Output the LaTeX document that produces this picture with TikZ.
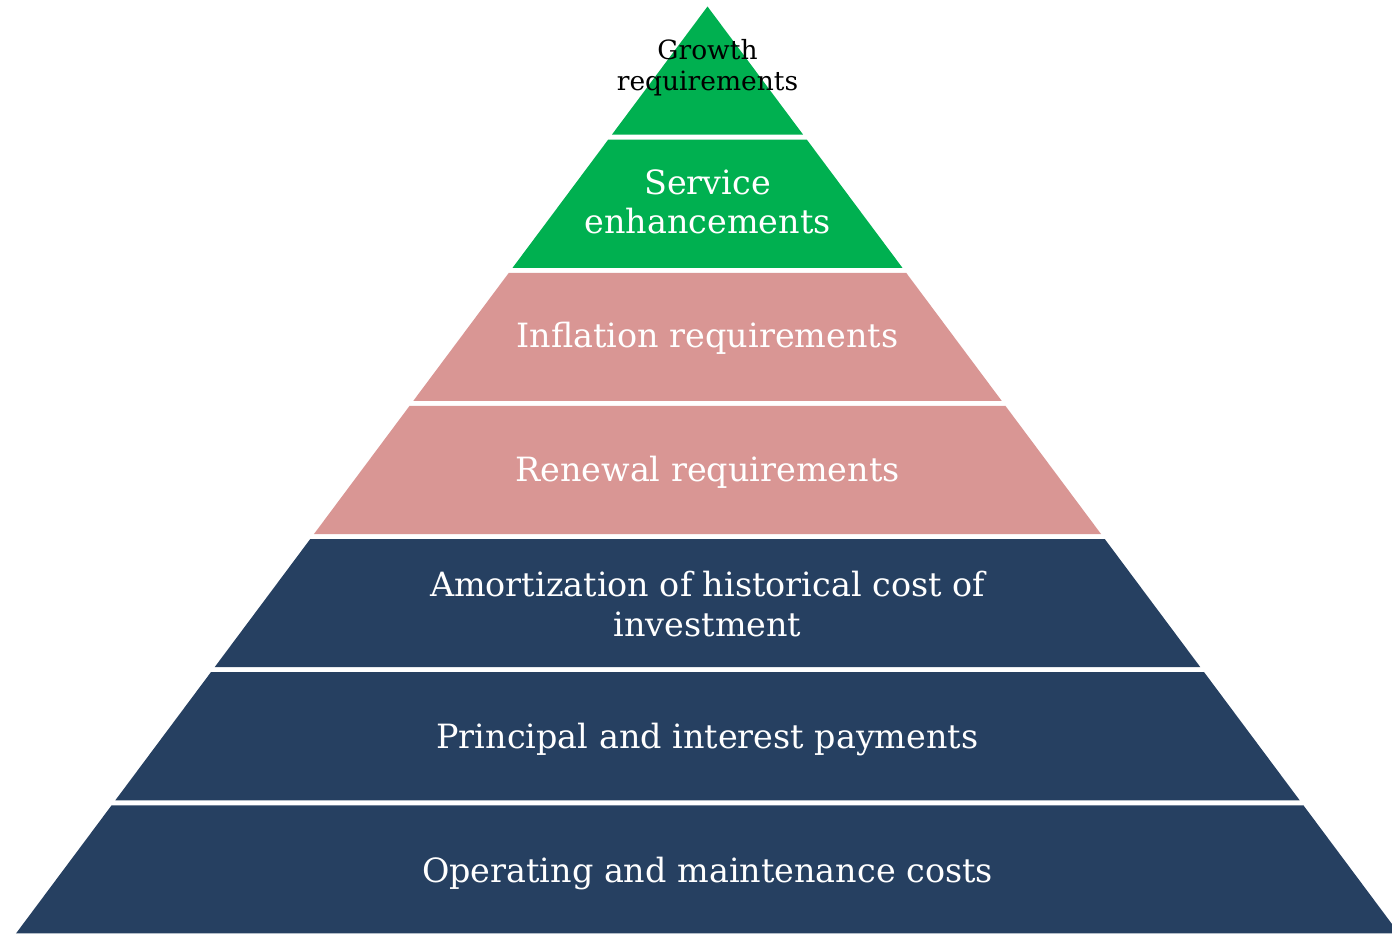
\documentclass[tikz,border=0pt]{standalone}
\usepackage{fontspec}
\setmainfont{DejaVu Serif}
\definecolor{growgreen}{HTML}{00B050}
\definecolor{rosepink}{HTML}{D99694}
\definecolor{navyblue}{HTML}{264061}
\begin{document}
\begin{tikzpicture}[x=1pt,y=-1pt,
  tier/.style={text=white, align=center, font=\fontsize{33.4}{39.5}\selectfont},
  tiptext/.style={text=black, align=center, font=\fontsize{26.5}{31}\selectfont}]
\useasboundingbox (0,0) rectangle (1392,934);
% pyramid geometry: apex, side slope, layer height and gap
\def\cx{707.5}
\def\apexy{6.5}
\def\slope{0.746}
\def\layerh{128.14}
\def\gap{5}
\foreach \i/\col in {0/growgreen,1/growgreen,2/rosepink,3/rosepink,4/navyblue,5/navyblue,6/navyblue}{
  \pgfmathsetmacro\yt{\apexy+\i*(\layerh+\gap)}
  \pgfmathsetmacro\yb{\yt+\layerh}
  \pgfmathsetmacro\ht{\slope*(\yt-\apexy)}
  \pgfmathsetmacro\hb{\slope*(\yb-\apexy)}
  \pgfmathsetmacro\xtl{\cx-\ht}
  \pgfmathsetmacro\xtr{\cx+\ht}
  \pgfmathsetmacro\xbl{\cx-\hb}
  \pgfmathsetmacro\xbr{\cx+\hb}
  \fill[\col] (\xtl,\yt) -- (\xtr,\yt) -- (\xbr,\yb) -- (\xbl,\yb) -- cycle;
}
% layer labels
\node[tiptext] (growth) at (707.5,68) {Growth\\requirements};
\node[tier] (service) at (707.5,202) {Service\\enhancements};
\node[tier] (inflation) at (707.5,338) {Inflation requirements};
\node[tier] (renewal) at (707.5,472) {Renewal requirements};
\node[tier] (amort) at (707.5,604) {Amortization of historical cost of\\investment};
\node[tier] (principal) at (707.5,740) {Principal and interest payments};
\node[tier] (operating) at (707.5,874) {Operating and maintenance costs};
\end{tikzpicture}
\end{document}
